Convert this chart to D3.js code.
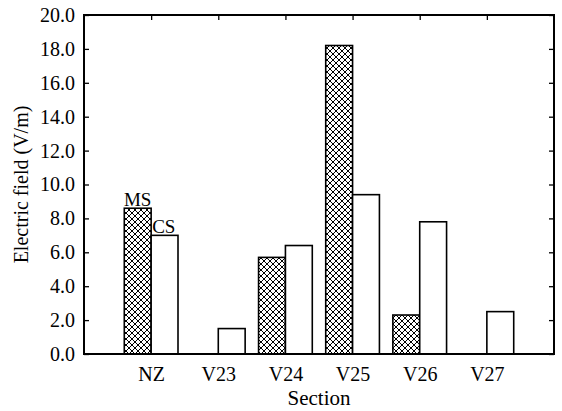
<!DOCTYPE html>
<html>
<head>
<meta charset="utf-8">
<script src="https://cdn.jsdelivr.net/npm/d3@7"></script>
<style>
	body { margin: 0; background: #fff; }
	svg { display: block; }
	svg text { font-family: "Liberation Serif", "DejaVu Serif", serif !important; fill: #000; }
</style>
</head>
<body>
<svg id="chart" width="562" height="411"></svg>
<script>
'use strict';

// data
const sections = ['NZ', 'V23', 'V24', 'V25', 'V26', 'V27'];
const msValues = [8.6, 0, 5.7, 18.2, 2.3, 0];
const csValues = [7.0, 1.5, 6.4, 9.4, 7.8, 2.5];
const yTicks = [0, 2, 4, 6, 8, 10, 12, 14, 16, 18, 20];

const width = 562, height = 411;
const margin = {top: 15, right: 8, bottom: 57, left: 84};
const iw = width - margin.left - margin.right;
const ih = height - margin.top - margin.bottom;

const svg = d3.select('#chart');

// cross-hatch pattern for MS
const p = 6;
const pat = svg.append('defs').append('pattern')
	.attr('id', 'hatch')
	.attr('patternUnits', 'userSpaceOnUse')
	.attr('width', p).attr('height', p);
pat.append('rect').attr('width', p).attr('height', p).attr('fill', '#fff');
pat.append('path')
	.attr('d', `M0,0L${p},${p}M0,${p}L${p},0M-1,1L1,-1M${p - 1},${p + 1}L${p + 1},${p - 1}M-1,${p - 1}L1,${p + 1}M${p - 1},-1L${p + 1},1`)
	.attr('stroke', '#000').attr('stroke-width', 1);

const g = svg.append('g').attr('transform', `translate(${margin.left},${margin.top})`);

// x: positions 0..7, sections at 1..6
const x = d3.scaleLinear().domain([0, sections.length + 1]).range([0, iw]);
const y = d3.scaleLinear().domain([0, 20]).range([ih, 0]);
const barW = x(1) - x(0.6);

const rows = sections.map((s, i) => ({s, i: i + 1, ms: msValues[i], cs: csValues[i]}));

g.selectAll('rect.ms').data(rows).join('rect')
	.attr('class', 'ms')
	.attr('x', d => x(d.i) - barW)
	.attr('y', d => y(d.ms))
	.attr('width', barW)
	.attr('height', d => ih - y(d.ms))
	.attr('fill', 'url(#hatch)')
	.attr('stroke', '#000').attr('stroke-width', 1.6);

g.selectAll('rect.cs').data(rows).join('rect')
	.attr('class', 'cs')
	.attr('x', d => x(d.i))
	.attr('y', d => y(d.cs))
	.attr('width', barW)
	.attr('height', d => ih - y(d.cs))
	.attr('fill', '#fff')
	.attr('stroke', '#000').attr('stroke-width', 1.6);

// axes
const yAxis = d3.axisLeft(y).tickValues(yTicks).tickSize(-5).tickPadding(9)
	.tickFormat(d3.format('.1f'));
const yAxisR = d3.axisRight(y).tickValues(yTicks).tickSize(-5).tickFormat('');
const xTop = d3.axisTop(x).tickValues(d3.range(1, sections.length + 1)).tickSize(-5).tickFormat('');
const xBottom = d3.axisBottom(x).tickValues(d3.range(1, sections.length + 1)).tickSize(0).tickPadding(13)
	.tickFormat(d => sections[d - 1]);

const style = sel => {
	sel.select('.domain').remove();
	sel.selectAll('line').attr('stroke', '#000').attr('stroke-width', 1.3);
	sel.selectAll('text').attr('font-size', 20);
};

g.append('g').call(yAxis).call(style);
g.append('g').attr('transform', `translate(${iw},0)`).call(yAxisR).call(style);
g.append('g').call(xTop).call(style);
g.append('g').attr('transform', `translate(0,${ih})`).call(xBottom).call(style);

// frame
g.append('rect')
	.attr('width', iw).attr('height', ih)
	.attr('fill', 'none').attr('stroke', '#000').attr('stroke-width', 2);

// bar labels on NZ
g.append('text')
	.attr('x', x(1) - barW / 2).attr('y', y(msValues[0]) - 2)
	.attr('text-anchor', 'middle').attr('font-size', 19)
	.text('MS');
g.append('text')
	.attr('x', x(1) + 1).attr('y', y(csValues[0]) - 2)
	.attr('font-size', 19)
	.text('CS');

// titles
svg.append('text')
	.attr('x', margin.left + iw / 2).attr('y', 405)
	.attr('text-anchor', 'middle').attr('font-size', 21)
	.text('Section');
svg.append('text')
	.attr('transform', `translate(28,${margin.top + ih / 2}) rotate(-90)`)
	.attr('text-anchor', 'middle').attr('font-size', 20)
	.text('Electric field (V/m)');
</script>
</body>
</html>
